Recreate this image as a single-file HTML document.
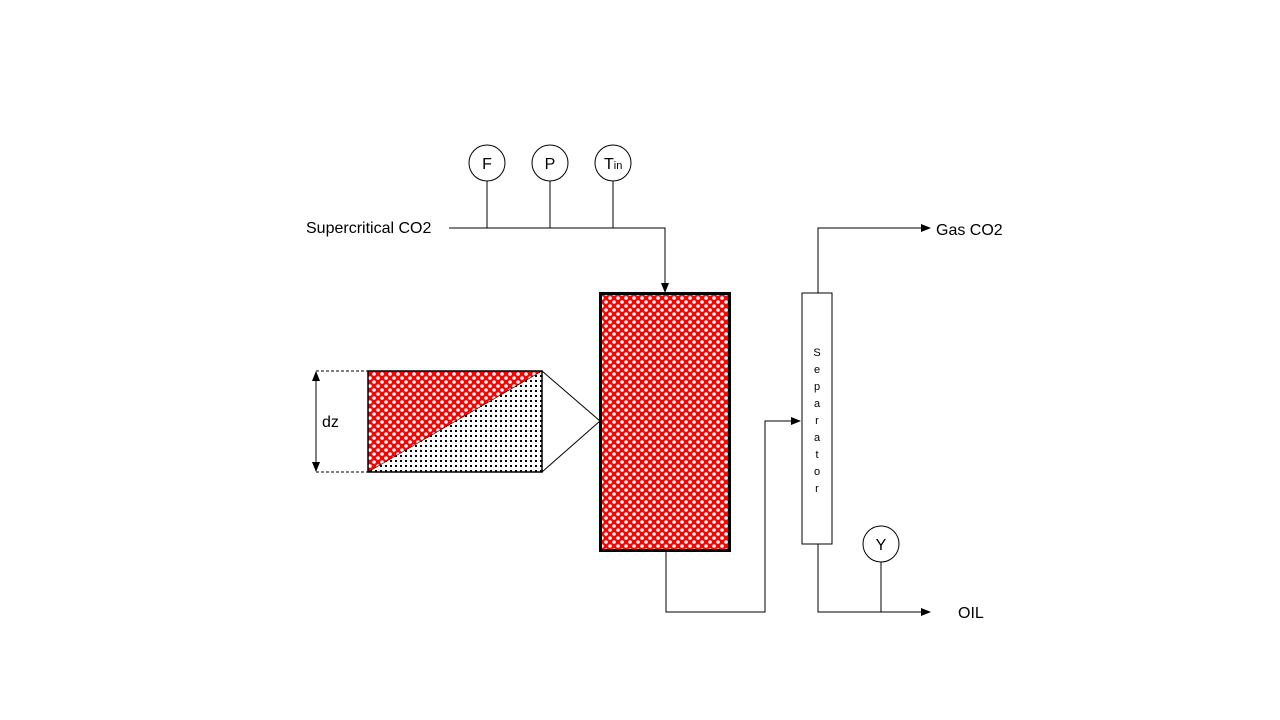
<!DOCTYPE html>
<html><head><meta charset="utf-8"><style>
html,body{margin:0;padding:0;background:#fff;}
svg{display:block;font-family:"Liberation Sans",Calibri,sans-serif;}
</style></head><body>
<svg width="1280" height="720" viewBox="0 0 1280 720">
<defs>
<pattern id="red" width="8" height="8" patternUnits="userSpaceOnUse">
<rect width="8" height="8" fill="#ff0000"/>
<circle cx="2" cy="2" r="1.8" fill="#fff"/>
<circle cx="6" cy="6" r="1.8" fill="#fff"/>
</pattern>
<pattern id="dots" width="5" height="5" patternUnits="userSpaceOnUse">
<rect width="5" height="5" fill="#fff"/>
<rect x="0" y="0" width="2" height="2" fill="#000"/>
</pattern>
<marker id="arr" markerWidth="10" markerHeight="8" refX="9" refY="4" orient="auto" markerUnits="userSpaceOnUse">
<path d="M0,0 L10,4 L0,8 z" fill="#000"/>
</marker>
<marker id="arr2" markerWidth="10" markerHeight="8" refX="9" refY="4" orient="auto-start-reverse" markerUnits="userSpaceOnUse">
<path d="M0,0 L10,4 L0,8 z" fill="#000"/>
</marker>
</defs>
<g stroke="#000" stroke-width="1" fill="none">
<line x1="487" y1="181" x2="487" y2="228"/>
<line x1="550" y1="181" x2="550" y2="228"/>
<line x1="613" y1="181" x2="613" y2="228"/>
<polyline points="449,228 665,228 665,292" marker-end="url(#arr)"/>
<polyline points="666,551 666,612 765,612 765,421 800,421" marker-end="url(#arr)"/>
<polyline points="818,293 818,228 930,228" marker-end="url(#arr)"/>
<polyline points="818,544 818,612 930,612" marker-end="url(#arr)"/>
<line x1="881" y1="562" x2="881" y2="612"/>
<line x1="542" y1="371" x2="600" y2="421"/>
<line x1="542" y1="472" x2="600" y2="421"/>
<line x1="316" y1="371" x2="368" y2="371" stroke-dasharray="3,2"/>
<line x1="316" y1="472" x2="368" y2="472" stroke-dasharray="3,2"/>
<line x1="316" y1="372" x2="316" y2="471" marker-start="url(#arr2)" marker-end="url(#arr)"/>
</g>
<rect x="368" y="371" width="174" height="101" fill="url(#dots)"/>
<polygon points="368,371 542,371 368,472" fill="url(#red)"/>
<line x1="368" y1="472" x2="542" y2="371" stroke="#000" stroke-width="0.6"/>
<rect x="368" y="371" width="174" height="101" fill="none" stroke="#000" stroke-width="1.5"/>
<rect x="600.5" y="293.5" width="129" height="257" fill="url(#red)" stroke="#000" stroke-width="3"/>
<rect x="802" y="293" width="30" height="251" fill="#fff" stroke="#000" stroke-width="1"/>
<g fill="#fff" stroke="#000" stroke-width="1">
<circle cx="487" cy="163" r="18"/>
<circle cx="550" cy="163" r="18"/>
<circle cx="613" cy="163" r="18"/>
<circle cx="881" cy="544" r="18"/>
</g>
<g fill="#000" font-size="16">
<text x="487" y="169" text-anchor="middle">F</text>
<text x="550" y="169" text-anchor="middle">P</text>
<text x="604" y="169">T<tspan font-size="11">in</tspan></text>
<text x="881" y="550" text-anchor="middle">Y</text>
<text x="306" y="233">Supercritical CO2</text>
<text x="936" y="235">Gas CO2</text>
<text x="958" y="618">OIL</text>
<text x="322" y="427">dz</text>
</g>
<g font-size="11" text-anchor="middle" fill="#000">
<text x="817" y="356">S</text><text x="817" y="373">e</text><text x="817" y="390">p</text><text x="817" y="407">a</text><text x="817" y="424">r</text><text x="817" y="441">a</text><text x="817" y="458">t</text><text x="817" y="475">o</text><text x="817" y="492">r</text>
</g>
</svg>
</body></html>
